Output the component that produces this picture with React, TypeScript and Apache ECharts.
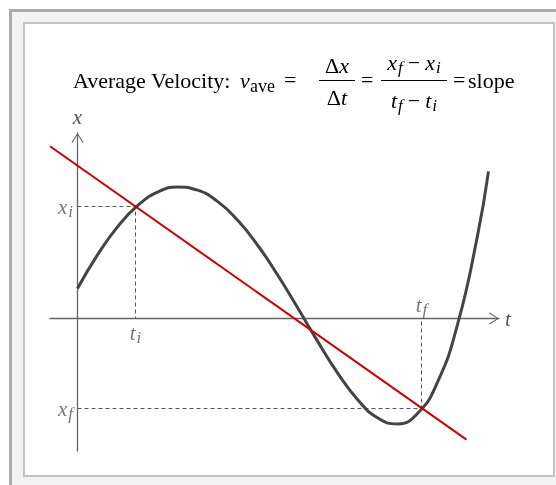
import React, { useEffect, useRef } from "react";
import * as echarts from "echarts";

// position curve x(t)
const curveT = [0, 20, 40, 60, 80, 100, 120, 140, 160, 180, 200, 220, 240, 260, 280, 300, 320, 340, 360, 380, 400, 411];
const curveX = [30, 63.6, 91.6, 112.8, 126.3, 131.5, 128.3, 117.1, 98.5, 73.5, 43.7, 10.9, -22.6, -54.3, -80.9, -99.3, -105.4, -95.0, -63.7, -6.2, 82.7, 147.1];
// secant line end points
const secantT = [-27.5, 389];
const secantX = [172.2, -121.1];
// marked instants
const tI = 58;
const xI = 112;
const tF = 344;
const xF = -90;
// axis ranges
const tRange = [-27.5, 421.5];
const xRange = [-132.5, 185.5];
// labels
const axisNameT = "t";
const axisNameX = "x";
const markLabels = ["{m|x}{s|i}", "{m|t}{s|i}", "{m|t}{s|f}", "{m|x}{s|f}"];

const FONT = "serif";
const GRAY = "#555";
const CHEVRON = "path://M6,0L12,9.3L11.1,10L6,1.7L0.9,10L0,9.3Z";

const F = 22;
const SUB = 17;

const titleRich = {
  r: { fontFamily: FONT, fontSize: F, fill: "#000" },
  m: { fontFamily: FONT, fontSize: F, fill: "#000", padding: [0, 5, 0, 5] },
  i: { fontFamily: FONT, fontSize: F, fontStyle: "italic", fill: "#000" },
  s: { fontFamily: FONT, fontSize: SUB, fontStyle: "italic", fill: "#000", padding: [10, 0, 0, 1] },
};

function txt(text: string, x: number, y: number, extra: any = {}) {
  return {
    type: "text",
    style: {
      text,
      x,
      y,
      fontFamily: FONT,
      fontSize: F,
      fill: "#000",
      verticalAlign: "middle",
      ...extra,
    },
  };
}

function buildOption() {
  const curve = curveT.map((t, i) => [t, curveX[i]]);
  const secant = secantT.map((t, i) => [t, secantX[i]]);
  const labelRich = {
    m: { fontFamily: FONT, fontStyle: "italic", fontSize: 21, color: GRAY },
    s: { fontFamily: FONT, fontStyle: "italic", fontSize: 17, color: GRAY, padding: [10, 0, 0, 1] },
  };
  const axisCommon = {
    type: "value",
    axisTick: { show: false },
    axisLabel: { show: false },
    splitLine: { show: false },
    nameTextStyle: { fontFamily: FONT, fontStyle: "italic", fontSize: 21, color: GRAY },
    axisLine: {
      show: true,
      onZero: true,
      symbol: ["none", CHEVRON],
      symbolSize: [12, 10],
      symbolOffset: [0, -5],
      lineStyle: { color: "#666", width: 1.3 },
    },
  };
  return {
    animation: false,
    textStyle: { fontFamily: FONT },
    grid: { left: 50, right: 57, top: 133, bottom: 34, containLabel: false },
    xAxis: { ...axisCommon, min: tRange[0], max: tRange[1], name: axisNameT, nameLocation: "end", nameGap: 6 },
    yAxis: { ...axisCommon, min: xRange[0], max: xRange[1], name: axisNameX, nameLocation: "end", nameGap: 6 },
    graphic: [
      {
        type: "rect",
        z: -10,
        silent: true,
        shape: { x: 10.5, y: 10.5, width: 700, height: 700 },
        style: { fill: "#f3f3f3", stroke: "#ababab", lineWidth: 3 },
      },
      {
        type: "rect",
        z: -9,
        silent: true,
        shape: { x: 24, y: 23, width: 530, height: 453 },
        style: { fill: "#fff", stroke: "#c3c3c3", lineWidth: 2 },
      },
      txt("Average Velocity:", 73, 80),
      txt("v", 240, 80, { fontStyle: "italic" }),
      txt("ave", 250, 86, { fontSize: 18 }),
      txt("=", 284, 79),
      txt("{r|Δ}{i|x}", 337, 65, { align: "center", rich: titleRich }),
      { type: "line", silent: true, shape: { x1: 319, y1: 80.5, x2: 355, y2: 80.5 }, style: { stroke: "#000", lineWidth: 1 } },
      txt("{r|Δ}{i|t}", 337, 97, { align: "center", rich: titleRich }),
      txt("=", 361, 79),
      txt("{i|x}{s|f}{m|−}{i|x}{s|i}", 414, 62, { align: "center", rich: titleRich }),
      { type: "line", silent: true, shape: { x1: 381, y1: 80.5, x2: 447, y2: 80.5 }, style: { stroke: "#000", lineWidth: 1 } },
      txt("{i|t}{s|f}{m|−}{i|t}{s|i}", 414, 100, { align: "center", rich: titleRich }),
      txt("=", 453, 79),
      txt("slope", 468, 80),
    ],
    series: [
      {
        type: "line",
        data: [[0, xI], [tI, xI], [tI, 0]],
        symbol: "none",
        z: 2,
        lineStyle: { color: GRAY, width: 1, type: [4, 3] },
      },
      {
        type: "line",
        data: [[0, xF], [tF, xF], [tF, 0]],
        symbol: "none",
        z: 2,
        lineStyle: { color: GRAY, width: 1, type: [4, 3] },
      },
      {
        type: "line",
        data: curve,
        symbol: "none",
        smooth: 0.5,
        z: 3,
        lineStyle: { color: "#444", width: 3 },
      },
      {
        type: "line",
        data: secant,
        symbol: "none",
        z: 4,
        lineStyle: { color: "#cc0000", width: 2 },
      },
      {
        type: "scatter",
        symbolSize: 1,
        z: 5,
        itemStyle: { color: "transparent" },
        label: { show: true, rich: labelRich },
        data: [
          { value: [0, xI], label: { position: "left", distance: 4, formatter: markLabels[0] } },
          { value: [tI, 0], label: { position: "bottom", distance: 0, formatter: markLabels[1] } },
          { value: [tF, 0], label: { position: "top", distance: 0, formatter: markLabels[2] } },
          { value: [0, xF], label: { position: "left", distance: 4, formatter: markLabels[3] } },
        ],
      },
    ],
  };
}

export default function App() {
  const ref = useRef<HTMLDivElement>(null);
  useEffect(() => {
    const chart = echarts.init(ref.current!, null, { renderer: "svg" });
    chart.setOption(buildOption() as any);
    return () => chart.dispose();
  }, []);
  return <div ref={ref} style={{ position: "fixed", left: 0, top: 0, width: 556, height: 485 }} />;
}
